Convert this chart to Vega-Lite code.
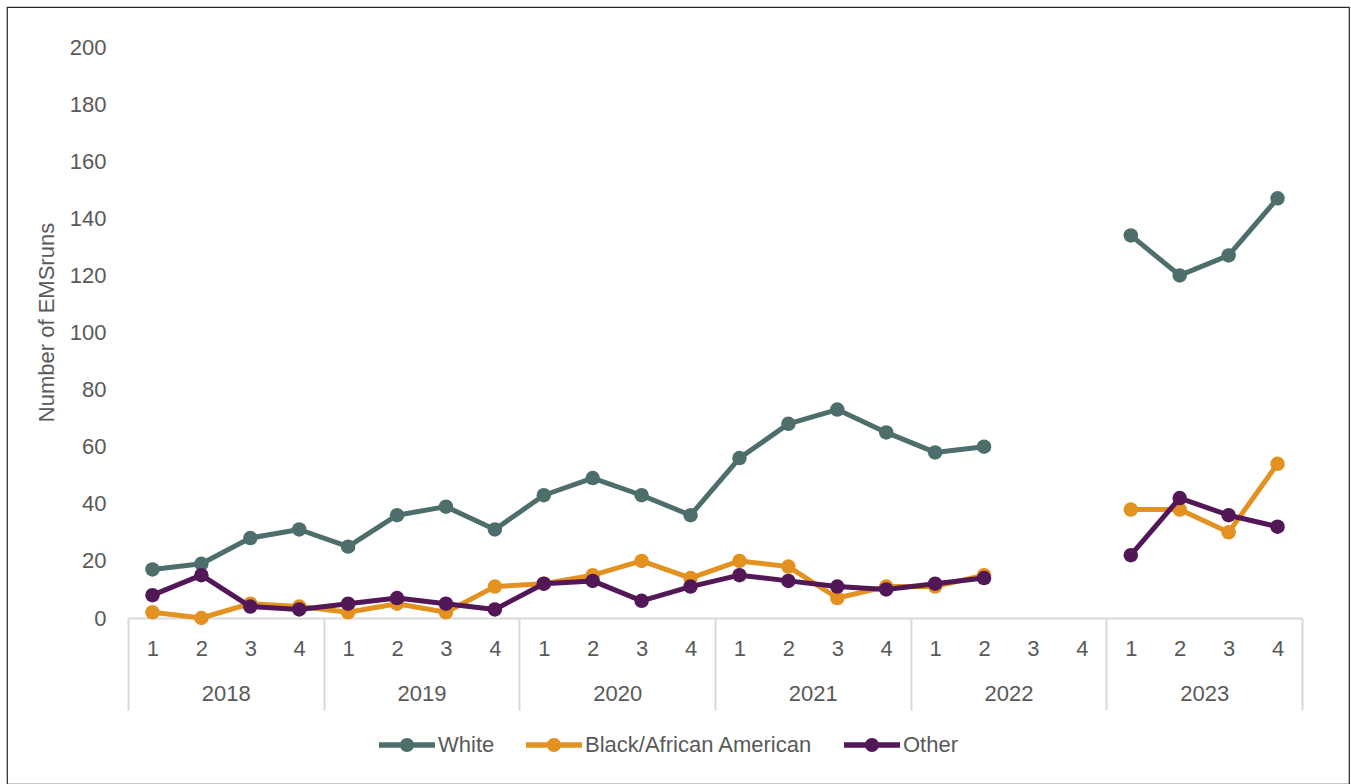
{
  "$schema": "https://vega.github.io/schema/vega-lite/v6.json",
  "width": 1342,
  "height": 777,
  "autosize": "none",
  "padding": {"left": 7, "top": 7, "right": 2, "bottom": 0},
  "background": "white",
  "config": {
    "view": {"stroke": "#262626", "strokeWidth": 1.2},
    "font": "Liberation Sans",
    "axis": {"labelFont": "Liberation Sans", "labelFontSize": 22, "labelColor": "#595959", "titleFont": "Liberation Sans", "titleFontSize": 22, "titleColor": "#595959", "titleFontWeight": "normal", "grid": false},
    "legend": {"labelFont": "Liberation Sans", "labelFontSize": 22, "labelColor": "#595959", "labelLimit": 0}
  },
  "data": {"values": [
    {"year": "2018", "period": "2018-1", "group": "White", "value": 17},
    {"year": "2018", "period": "2018-2", "group": "White", "value": 19},
    {"year": "2018", "period": "2018-3", "group": "White", "value": 28},
    {"year": "2018", "period": "2018-4", "group": "White", "value": 31},
    {"year": "2019", "period": "2019-1", "group": "White", "value": 25},
    {"year": "2019", "period": "2019-2", "group": "White", "value": 36},
    {"year": "2019", "period": "2019-3", "group": "White", "value": 39},
    {"year": "2019", "period": "2019-4", "group": "White", "value": 31},
    {"year": "2020", "period": "2020-1", "group": "White", "value": 43},
    {"year": "2020", "period": "2020-2", "group": "White", "value": 49},
    {"year": "2020", "period": "2020-3", "group": "White", "value": 43},
    {"year": "2020", "period": "2020-4", "group": "White", "value": 36},
    {"year": "2021", "period": "2021-1", "group": "White", "value": 56},
    {"year": "2021", "period": "2021-2", "group": "White", "value": 68},
    {"year": "2021", "period": "2021-3", "group": "White", "value": 73},
    {"year": "2021", "period": "2021-4", "group": "White", "value": 65},
    {"year": "2022", "period": "2022-1", "group": "White", "value": 58},
    {"year": "2022", "period": "2022-2", "group": "White", "value": 60},
    {"year": "2022", "period": "2022-3", "group": "White", "value": null},
    {"year": "2022", "period": "2022-4", "group": "White", "value": null},
    {"year": "2023", "period": "2023-1", "group": "White", "value": 134},
    {"year": "2023", "period": "2023-2", "group": "White", "value": 120},
    {"year": "2023", "period": "2023-3", "group": "White", "value": 127},
    {"year": "2023", "period": "2023-4", "group": "White", "value": 147},
    {"year": "2018", "period": "2018-1", "group": "Black/African American", "value": 2},
    {"year": "2018", "period": "2018-2", "group": "Black/African American", "value": 0},
    {"year": "2018", "period": "2018-3", "group": "Black/African American", "value": 5},
    {"year": "2018", "period": "2018-4", "group": "Black/African American", "value": 4},
    {"year": "2019", "period": "2019-1", "group": "Black/African American", "value": 2},
    {"year": "2019", "period": "2019-2", "group": "Black/African American", "value": 5},
    {"year": "2019", "period": "2019-3", "group": "Black/African American", "value": 2},
    {"year": "2019", "period": "2019-4", "group": "Black/African American", "value": 11},
    {"year": "2020", "period": "2020-1", "group": "Black/African American", "value": 12},
    {"year": "2020", "period": "2020-2", "group": "Black/African American", "value": 15},
    {"year": "2020", "period": "2020-3", "group": "Black/African American", "value": 20},
    {"year": "2020", "period": "2020-4", "group": "Black/African American", "value": 14},
    {"year": "2021", "period": "2021-1", "group": "Black/African American", "value": 20},
    {"year": "2021", "period": "2021-2", "group": "Black/African American", "value": 18},
    {"year": "2021", "period": "2021-3", "group": "Black/African American", "value": 7},
    {"year": "2021", "period": "2021-4", "group": "Black/African American", "value": 11},
    {"year": "2022", "period": "2022-1", "group": "Black/African American", "value": 11},
    {"year": "2022", "period": "2022-2", "group": "Black/African American", "value": 15},
    {"year": "2022", "period": "2022-3", "group": "Black/African American", "value": null},
    {"year": "2022", "period": "2022-4", "group": "Black/African American", "value": null},
    {"year": "2023", "period": "2023-1", "group": "Black/African American", "value": 38},
    {"year": "2023", "period": "2023-2", "group": "Black/African American", "value": 38},
    {"year": "2023", "period": "2023-3", "group": "Black/African American", "value": 30},
    {"year": "2023", "period": "2023-4", "group": "Black/African American", "value": 54},
    {"year": "2018", "period": "2018-1", "group": "Other", "value": 8},
    {"year": "2018", "period": "2018-2", "group": "Other", "value": 15},
    {"year": "2018", "period": "2018-3", "group": "Other", "value": 4},
    {"year": "2018", "period": "2018-4", "group": "Other", "value": 3},
    {"year": "2019", "period": "2019-1", "group": "Other", "value": 5},
    {"year": "2019", "period": "2019-2", "group": "Other", "value": 7},
    {"year": "2019", "period": "2019-3", "group": "Other", "value": 5},
    {"year": "2019", "period": "2019-4", "group": "Other", "value": 3},
    {"year": "2020", "period": "2020-1", "group": "Other", "value": 12},
    {"year": "2020", "period": "2020-2", "group": "Other", "value": 13},
    {"year": "2020", "period": "2020-3", "group": "Other", "value": 6},
    {"year": "2020", "period": "2020-4", "group": "Other", "value": 11},
    {"year": "2021", "period": "2021-1", "group": "Other", "value": 15},
    {"year": "2021", "period": "2021-2", "group": "Other", "value": 13},
    {"year": "2021", "period": "2021-3", "group": "Other", "value": 11},
    {"year": "2021", "period": "2021-4", "group": "Other", "value": 10},
    {"year": "2022", "period": "2022-1", "group": "Other", "value": 12},
    {"year": "2022", "period": "2022-2", "group": "Other", "value": 14},
    {"year": "2022", "period": "2022-3", "group": "Other", "value": null},
    {"year": "2022", "period": "2022-4", "group": "Other", "value": null},
    {"year": "2023", "period": "2023-1", "group": "Other", "value": 22},
    {"year": "2023", "period": "2023-2", "group": "Other", "value": 42},
    {"year": "2023", "period": "2023-3", "group": "Other", "value": 36},
    {"year": "2023", "period": "2023-4", "group": "Other", "value": 32}
  ]},
  "layer": [
    {
      "encoding": {
        "x": {
          "field": "period", "type": "ordinal",
          "scale": {"type": "point", "padding": 0.5, "range": [121, 1295],
            "domain": ["2018-1","2018-2","2018-3","2018-4","2019-1","2019-2","2019-3","2019-4","2020-1","2020-2","2020-3","2020-4","2021-1","2021-2","2021-3","2021-4","2022-1","2022-2","2022-3","2022-4","2023-1","2023-2","2023-3","2023-4"]},
          "axis": {"orient": "bottom", "offset": -166, "title": null, "labelAngle": 0, "ticks": false, "domain": true, "domainColor": "#d9d9d9", "domainWidth": 2, "labelPadding": 20, "labelExpr": "split(datum.value, '-')[1]"}
        },
        "y": {
          "field": "value", "type": "quantitative",
          "scale": {"domain": [0, 200], "range": [611, 40], "nice": false},
          "axis": {"orient": "left", "offset": -121, "title": "Number of EMSruns", "values": [0,20,40,60,80,100,120,140,160,180,200], "domain": false, "ticks": false, "labelPadding": 22, "titleX": -75, "titleY": 315, "titleBaseline": "alphabetic", "titleAngle": 270}
        },
        "color": {
          "field": "group", "type": "nominal",
          "scale": {"domain": ["White", "Black/African American", "Other"], "range": ["#4e6e6c", "#e39120", "#521756"]},
          "legend": {
            "orient": "none", "legendX": 372, "legendY": 710, "direction": "horizontal", "title": null,
            "symbolType": "M-1,-0.1L1,-0.1L1,0.1L-1,0.1Z M0.25,0A0.25,0.25,0,1,1,-0.25,0A0.25,0.25,0,1,1,0.25,0Z",
            "symbolSize": 3136, "symbolStrokeWidth": 0, "labelOffset": 3, "columnPadding": 31, "padding": 0, "labelLimit": 0,
            "encode": {"symbols": {"update": {"fill": {"scale": "color", "field": "value"}, "strokeWidth": {"value": 0}, "opacity": {"value": 1}}}}
          }
        }
      },
      "layer": [
        {"transform": [{"filter": "datum.group === 'White'"}], "mark": {"type": "line", "strokeWidth": 5, "strokeJoin": "round", "strokeCap": "round", "invalid": "break-paths-show-domains"}},
        {"transform": [{"filter": "datum.group === 'White' && datum.value != null"}], "mark": {"type": "point", "filled": true, "opacity": 1, "size": 210}},
        {"transform": [{"filter": "datum.group === 'Black/African American'"}], "mark": {"type": "line", "strokeWidth": 5, "strokeJoin": "round", "strokeCap": "round", "invalid": "break-paths-show-domains"}},
        {"transform": [{"filter": "datum.group === 'Black/African American' && datum.value != null"}], "mark": {"type": "point", "filled": true, "opacity": 1, "size": 210}},
        {"transform": [{"filter": "datum.group === 'Other'"}], "mark": {"type": "line", "strokeWidth": 5, "strokeJoin": "round", "strokeCap": "round", "invalid": "break-paths-show-domains"}},
        {"transform": [{"filter": "datum.group === 'Other' && datum.value != null"}], "mark": {"type": "point", "filled": true, "opacity": 1, "size": 210}}
      ]
    },
    {
      "mark": {"type": "tick", "opacity": 0},
      "encoding": {
        "x": {
          "field": "year", "type": "ordinal",
          "scale": {"type": "band", "range": [121, 1295], "paddingInner": 0, "paddingOuter": 0},
          "axis": {"orient": "bottom", "offset": -166, "title": null, "labelAngle": 0, "domain": false, "ticks": true, "tickBand": "extent", "tickSize": 92, "tickColor": "#d9d9d9", "tickWidth": 2, "labelPadding": -27}
        }
      }
    }
  ],
  "resolve": {"scale": {"x": "independent"}, "axis": {"x": "independent"}}
}
